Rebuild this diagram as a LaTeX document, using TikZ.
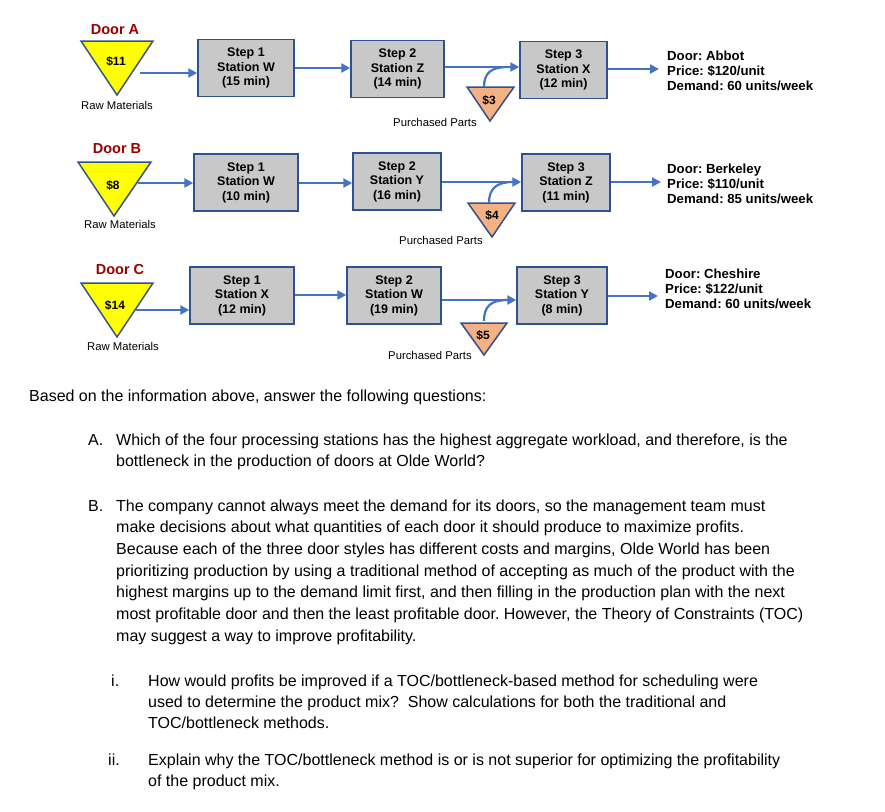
\documentclass[tikz,border=0pt]{standalone}
\usepackage{fontspec}
\setmainfont{Liberation Sans}
\usetikzlibrary{arrows.meta}
\frenchspacing
\definecolor{arrblue}{HTML}{4472C4}
\definecolor{boxline}{HTML}{2F528F}
\definecolor{boxfill}{HTML}{C8C8C8}
\definecolor{doorred}{HTML}{990000}
\definecolor{ppfill}{HTML}{F4B183}
\definecolor{rmfill}{HTML}{FFFF00}
\tikzset{
 stbox/.style={draw=boxline, line width=1.5pt, fill=boxfill, align=center, inner sep=0pt,
   font=\fontsize{12.5}{14.5}\selectfont\bfseries, minimum height=57pt},
 arr/.style={draw=arrblue, line width=2.2pt, -{Triangle[length=9pt,width=9pt]}},
 feed/.style={draw=arrblue, line width=2.2pt},
 tri/.style={draw=boxline, line width=1.5pt, line join=miter},
 doorlbl/.style={font=\fontsize{14.5}{16}\selectfont\bfseries, text=doorred, inner sep=0pt},
 rmlbl/.style={font=\fontsize{11.3}{13}\selectfont, inner sep=0pt},
 cost/.style={font=\fontsize{12}{14}\selectfont\bfseries, inner sep=0pt},
 info/.style={align=left, inner sep=0pt, anchor=west, font=\fontsize{13.2}{15.3}\selectfont\bfseries},
 body/.style={anchor=base west, inner sep=0pt, font=\fontsize{16}{20}\selectfont},
}
\begin{document}
\begin{tikzpicture}[x=1pt,y=-1pt]
\useasboundingbox (0,0) rectangle (885,811);
\fill[white] (0,0) rectangle (885,811);

% ---------- Row A ----------
\node[doorlbl] (doorA) at (115,30) {Door A};
\filldraw[tri, fill=rmfill] (81,41) -- (153,41) -- (117,95) -- cycle;
\node[cost] (cA) at (116,61) {\$11};
\node[rmlbl] (rmlA) at (117,105) {Raw Materials};
\coordinate (rmA) at (140,73);
\node[stbox, minimum width=96pt] (a1) at (246,68) {Step 1\\Station W\\(15 min)};
\node[stbox, minimum width=93pt] (a2) at (397.5,69) {Step 2\\Station Z\\(14 min)};
\node[stbox, minimum width=87pt] (a3) at (563.5,70) {Step 3\\Station X\\(12 min)};
\filldraw[tri, fill=ppfill] (467,87) -- (514,87) -- (490,121) -- cycle;
\node[cost] (pcA) at (489,100) {\$3};
\node[rmlbl] (pplA) at (435,122) {Purchased Parts};
\coordinate (ppA) at (484,87);
\node[info] (dA) at (667,71) {Door: Abbot\\Price: \$120/unit\\Demand: 60 units/week};
\draw[arr] (rmA) -- (rmA -| a1.west);
\draw[arr] (a1.east) -- (a1.east -| a2.west);
\draw[arr] (a2.east |- 0,67) -- (a3.west |- 0,67);
\draw[feed] (ppA) .. controls (484,73) and (491,67) .. (508,67);
\draw[arr, shorten >=8pt] (a3.east |- 0,69) -- (dA.west |- 0,69);

% ---------- Row B ----------
\node[doorlbl] (doorB) at (117,149) {Door B};
\filldraw[tri, fill=rmfill] (78,162) -- (151,162) -- (114,216) -- cycle;
\node[cost] (cB) at (113,185) {\$8};
\node[rmlbl] (rmlB) at (120,224) {Raw Materials};
\coordinate (rmB) at (138,183);
\node[stbox, minimum width=104pt] (b1) at (246,182.5) {Step 1\\Station W\\(10 min)};
\node[stbox, minimum width=88pt] (b2) at (397,181.5) {Step 2\\Station Y\\(16 min)};
\node[stbox, minimum width=88pt] (b3) at (566,182.5) {Step 3\\Station Z\\(11 min)};
\filldraw[tri, fill=ppfill] (468,203) -- (515,203) -- (492,237) -- cycle;
\node[cost] (pcB) at (492,215) {\$4};
\node[rmlbl] (pplB) at (441,240) {Purchased Parts};
\coordinate (ppB) at (489,203);
\node[info] (dB) at (667,184) {Door: Berkeley\\Price: \$110/unit\\Demand: 85 units/week};
\draw[arr] (rmB) -- (rmB -| b1.west);
\draw[arr] (b1.east |- 0,183) -- (b2.west |- 0,183);
\draw[arr] (b2.east |- 0,182) -- (b3.west |- 0,182);
\draw[feed] (ppB) .. controls (489,189) and (496,182) .. (513,182);
\draw[arr, shorten >=6pt] (b3.east |- 0,182) -- (dB.west |- 0,182);

% ---------- Row C ----------
\node[doorlbl] (doorC) at (120,270) {Door C};
\filldraw[tri, fill=rmfill] (81,283) -- (153,283) -- (117,337) -- cycle;
\node[cost] (cC) at (115,305) {\$14};
\node[rmlbl] (rmlC) at (123,346) {Raw Materials};
\coordinate (rmC) at (135,310);
\node[stbox, minimum width=104pt] (c1) at (242,295.5) {Step 1\\Station X\\(12 min)};
\node[stbox, minimum width=94pt] (c2) at (394,295.5) {Step 2\\Station W\\(19 min)};
\node[stbox, minimum width=90pt] (c3) at (562,295.5) {Step 3\\Station Y\\(8 min)};
\filldraw[tri, fill=ppfill] (461,323) -- (507,323) -- (484,355) -- cycle;
\node[cost] (pcC) at (483,335) {\$5};
\node[rmlbl] (pplC) at (430,355) {Purchased Parts};
\coordinate (ppC) at (484,321);
\node[info] (dC) at (665,289) {Door: Cheshire\\Price: \$122/unit\\Demand: 60 units/week};
\draw[arr] (rmC) -- (rmC -| c1.west);
\draw[arr] (c1.east |- 0,295) -- (c2.west |- 0,295);
\draw[arr] (c2.east |- 0,300) -- (c3.west |- 0,300);
\draw[feed] (ppC) .. controls (484,306) and (491,300) .. (508,300);
\draw[arr, shorten >=7pt] (c3.east |- 0,296) -- (dC.west |- 0,296);

% ---------- Questions ----------
\node[body] (q0) at (29,401) {Based on the information above, answer the following questions:};
\node[body] (qA) at (88,445) {A.};
\node[body] (qA1) at (116,445) {Which of the four processing stations has the highest aggregate workload, and therefore, is the};
\node[body] (qA2) at (116,466) {bottleneck in the production of doors at Olde World?};
\node[body] (qB) at (88,511) {B.};
\node[body] (qB1) at (116,511) {The company cannot always meet the demand for its doors, so the management team must};
\node[body] (qB2) at (116,532.7) {make decisions about what quantities of each door it should produce to maximize profits.};
\node[body] (qB3) at (116,554.4) {Because each of the three door styles has different costs and margins, Olde World has been};
\node[body] (qB4) at (116,576.1) {prioritizing production by using a traditional method of accepting as much of the product with the};
\node[body] (qB5) at (116,597.8) {highest margins up to the demand limit first, and then filling in the production plan with the next};
\node[body] (qB6) at (116,619.5) {most profitable door and then the least profitable door. However, the Theory of Constraints (TOC)};
\node[body] (qB7) at (116,641.2) {may suggest a way to improve profitability.};
\node[body] (qi) at (111,686) {i.};
\node[body] (qi1) at (148,686) {How would profits be improved if a TOC/bottleneck-based method for scheduling were};
\node[body] (qi2) at (148,707) {used to determine the product mix?\ \ Show calculations for both the traditional and};
\node[body] (qi3) at (148,728) {TOC/bottleneck methods.};
\node[body] (qii) at (108,765) {ii.};
\node[body] (qii1) at (148,765) {Explain why the TOC/bottleneck method is or is not superior for optimizing the profitability};
\node[body] (qii2) at (148,786) {of the product mix.};
\end{tikzpicture}
\end{document}
